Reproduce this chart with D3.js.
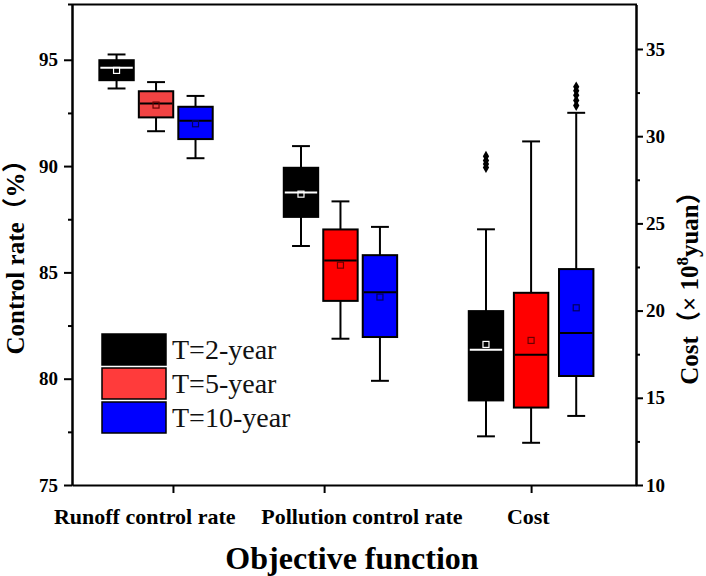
<!DOCTYPE html>
<html>
<head>
<meta charset="utf-8">
<script src="https://cdn.jsdelivr.net/npm/d3@7"></script>
<style>
  body { margin: 0; background: #fff; }
  svg { display: block; font-family: 'Liberation Serif', 'Times New Roman', 'Noto Sans CJK SC', serif; }
  .axis path, .axis line { stroke: #000; stroke-width: 2; }
  .axis text { font-family: 'Liberation Serif', serif; font-weight: bold; font-size: 19px; fill: #000; }
</style>
</head>
<body>
<svg id="chart" width="706" height="576"></svg>
<script>
// categories and series
const categories = ['Runoff control rate', 'Pollution control rate', 'Cost']
const periods = ['T=2-year', 'T=5-year', 'T=10-year']

// box statistics, [period][category]; the Cost column is read on the right axis
const whiskerLo = [[93.65, 86.24, 12.79], [91.64, 81.88, 12.42], [90.37, 79.90, 13.96]]
const q1 = [[94.04, 87.61, 14.85], [92.29, 83.66, 14.44], [91.27, 81.96, 16.25]]
const median = [[94.62, 88.76, 17.76], [92.94, 85.56, 17.47], [92.13, 84.06, 18.71]]
const mean = [[94.50, 88.68, 18.06], [92.87, 85.34, 18.29], [91.99, 83.84, 20.16]]
const q3 = [[94.98, 89.92, 19.97], [93.52, 87.02, 21.02], [92.79, 85.81, 22.38]]
const whiskerHi = [[95.25, 90.94, 24.66], [93.95, 88.34, 29.70], [93.30, 87.14, 31.34]]
const outliers = [
  [[], [], [28.2, 28.4, 28.6, 28.85]],
  [[], [], []],
  [[], [], [31.76, 32.05, 32.35, 32.6, 32.83]]
]

// tick values
const leftTicks = [75, 80, 85, 90, 95]
const leftMinor = [77.5, 82.5, 87.5, 92.5]
const rightTicks = [10, 15, 20, 25, 30, 35]
const rightMinor = [12.5, 17.5, 22.5, 27.5, 32.5]

// x layout in axis units (0..10)
const groupCenters = [1.49, 4.76, 8.14]
const groupSpread = [0.70, 0.70, 0.80]
const tickPos = [1.79, 4.47, 8.14]
const labelPos = [1.29, 5.14, 8.09]

const svg = d3.select('#chart')

const margin = { top: 4.5, right: 70, bottom: 91, left: 72 }
const width = 706
const height = 576

const xscale = d3.scaleLinear()
  .domain([0, 10])
  .range([margin.left, width - margin.right])

const yLeft = d3.scaleLinear()
  .domain([75, 97.6])
  .range([height - margin.bottom, margin.top])

const yRight = d3.scaleLinear()
  .domain([10, 37.55])
  .range([height - margin.bottom, margin.top])

const boxW = xscale(0.61) - xscale(0)
const capW = boxW * 0.52

const fills = [
  ['#000000', '#000000', '#000000'],
  ['#f24343', '#ff0000', '#ff0000'],
  ['#0000ff', '#0000ff', '#0000ff']
]
const medianColor = ['#ffffff', '#000000', '#000000']
const meanColor = ['#ffffff', '#6a0000', '#000060']

// axes
svg.append('g')
  .attr('class', 'axis')
  .attr('transform', `translate(${margin.left}, 0)`)
  .call(d3.axisLeft(yLeft).tickValues(leftTicks).tickSize(8).tickSizeOuter(0).tickPadding(6))

svg.append('g')
  .attr('class', 'axis')
  .attr('transform', `translate(${margin.left}, 0)`)
  .call(d3.axisLeft(yLeft).tickValues(leftMinor).tickSize(4).tickSizeOuter(0).tickFormat(''))

svg.append('g')
  .attr('class', 'axis')
  .attr('transform', `translate(${width - margin.right}, 0)`)
  .call(d3.axisRight(yRight).tickValues(rightTicks).tickSize(7).tickSizeOuter(0).tickPadding(3))

svg.append('g')
  .attr('class', 'axis')
  .attr('transform', `translate(${width - margin.right}, 0)`)
  .call(d3.axisRight(yRight).tickValues(rightMinor).tickSize(4).tickSizeOuter(0).tickFormat(''))

svg.append('g')
  .attr('class', 'axis')
  .attr('transform', `translate(0, ${height - margin.bottom})`)
  .call(d3.axisBottom(xscale).tickValues(tickPos).tickSize(8).tickSizeOuter(0).tickFormat(''))

// top spine
svg.append('line')
  .attr('x1', margin.left - 4)
  .attr('x2', width - margin.right + 1)
  .attr('y1', margin.top)
  .attr('y2', margin.top)
  .attr('stroke', '#000')
  .attr('stroke-width', 2)

// boxes
const boxes = []
periods.forEach((p, i) => {
  categories.forEach((c, j) => {
    boxes.push({
      i, j,
      x: groupCenters[j] + (i - 1) * groupSpread[j],
      y: j === 2 ? yRight : yLeft,
      lo: whiskerLo[i][j], q1: q1[i][j], med: median[i][j],
      mean: mean[i][j], q3: q3[i][j], hi: whiskerHi[i][j],
      out: outliers[i][j]
    })
  })
})

const boxG = svg.append('g')
  .selectAll('g')
  .data(boxes)
  .enter()
  .append('g')

// whisker stems
boxG.append('line')
  .attr('x1', d => xscale(d.x))
  .attr('x2', d => xscale(d.x))
  .attr('y1', d => d.y(d.lo))
  .attr('y2', d => d.y(d.hi))
  .attr('stroke', '#000')
  .attr('stroke-width', 2)

// whisker caps
boxG.selectAll('.cap')
  .data(d => [d.lo, d.hi].map(v => ({ v, d })))
  .enter()
  .append('line')
  .attr('x1', e => xscale(e.d.x) - capW / 2)
  .attr('x2', e => xscale(e.d.x) + capW / 2)
  .attr('y1', e => e.d.y(e.v))
  .attr('y2', e => e.d.y(e.v))
  .attr('stroke', '#000')
  .attr('stroke-width', 2)

boxG.append('rect')
  .attr('x', d => xscale(d.x) - boxW / 2)
  .attr('width', boxW)
  .attr('y', d => d.y(d.q3))
  .attr('height', d => d.y(d.q1) - d.y(d.q3))
  .attr('fill', d => fills[d.i][d.j])
  .attr('stroke', '#000')
  .attr('stroke-width', 2)

boxG.append('line')
  .attr('x1', d => xscale(d.x) - boxW / 2 + 1)
  .attr('x2', d => xscale(d.x) + boxW / 2 - 1)
  .attr('y1', d => d.y(d.med))
  .attr('y2', d => d.y(d.med))
  .attr('stroke', d => medianColor[d.i])
  .attr('stroke-width', 2)

boxG.append('rect')
  .attr('x', d => xscale(d.x) - 3)
  .attr('y', d => d.y(d.mean) - 3)
  .attr('width', 6)
  .attr('height', 6)
  .attr('fill', 'none')
  .attr('stroke', d => meanColor[d.i])
  .attr('stroke-width', 1.2)

boxG.selectAll('.out')
  .data(d => d.out.map(v => ({ v, d })))
  .enter()
  .append('path')
  .attr('d', d3.symbol().type(d3.symbolDiamond).size(34))
  .attr('transform', e => `translate(${xscale(e.d.x)}, ${e.d.y(e.v)})`)
  .attr('fill', '#000')

// category labels
svg.append('g')
  .selectAll('text')
  .data(categories)
  .enter()
  .append('text')
  .text(d => d)
  .attr('x', (d, k) => xscale(labelPos[k]))
  .attr('y', 524)
  .attr('text-anchor', 'middle')
  .attr('font-weight', 'bold')
  .attr('font-size', 22)

// axis titles
svg.append('text')
  .text('Objective function')
  .attr('x', 352)
  .attr('y', 569)
  .attr('text-anchor', 'middle')
  .attr('font-weight', 'bold')
  .attr('font-size', 32)

svg.append('text')
  .text('Control rate（%）')
  .attr('transform', 'translate(24, 251) rotate(-90)')
  .attr('text-anchor', 'middle')
  .attr('font-weight', 'bold')
  .attr('font-size', 25)

const rTitle = svg.append('text')
  .attr('transform', 'translate(698, 282) rotate(-90)')
  .attr('text-anchor', 'middle')
  .attr('font-weight', 'bold')
  .attr('font-size', 25)
rTitle.append('tspan').text('Cost（× 10')
rTitle.append('tspan').text('8').attr('font-size', 17).attr('dy', -10)
rTitle.append('tspan').text('yuan）').attr('dy', 10)

// legend
const legend = svg.append('g')
  .selectAll('g')
  .data(periods)
  .enter()
  .append('g')
  .attr('transform', (d, i) => `translate(102, ${334 + i * 34})`)

legend.append('rect')
  .attr('width', 64)
  .attr('height', 31)
  .attr('fill', (d, i) => i === 1 ? '#ff3b3b' : fills[i][0])
  .attr('stroke', '#000')
  .attr('stroke-width', 1.5)

legend.append('text')
  .text(d => d)
  .attr('x', 70)
  .attr('y', 25)
  .attr('font-size', 28)
  .attr('fill', '#111')
</script>
</body>
</html>
